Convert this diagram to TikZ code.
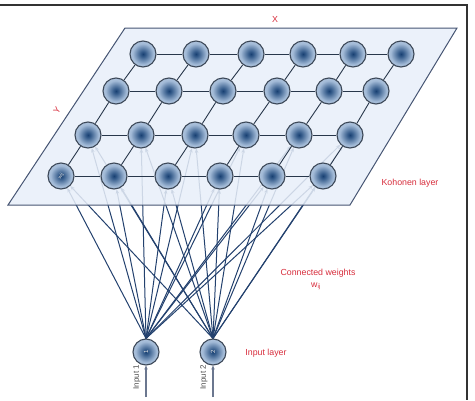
\documentclass[tikz,border=0pt]{standalone}
\usepackage{fontspec}
\setmainfont{Liberation Sans}
\usetikzlibrary{arrows.meta}
\pgfdeclarelayer{wires}
\pgfdeclarelayer{planelayer}
\pgfsetlayers{wires,planelayer,main}
\definecolor{ballc}{RGB}{25,65,115}
\definecolor{ballm}{RGB}{120,155,195}
\definecolor{balle}{RGB}{205,218,235}
\definecolor{ballrim}{RGB}{60,72,88}
\definecolor{gridc}{RGB}{40,55,75}
\definecolor{wirec}{RGB}{35,65,110}
\definecolor{planefill}{RGB}{232,239,249}
\definecolor{planeedge}{RGB}{70,85,115}
\definecolor{lblred}{RGB}{215,45,60}
\definecolor{framec}{RGB}{50,50,50}
\pgfdeclareradialshading{ball}{\pgfpoint{0bp}{0bp}}{color(0bp)=(ballc); color(5bp)=(ballc!70!ballm); color(20bp)=(ballm!50!balle); color(40bp)=(balle); color(50bp)=(balle)}
\begin{document}
\begin{tikzpicture}[x=1pt,y=-1pt,
  som/.style={circle, minimum size=26pt, inner sep=0pt, draw=ballrim, line width=1.1pt, shading=ball},
  gridline/.style={draw=gridc, line width=0.9pt},
  wire/.style={draw=wirec, line width=1pt, -{Stealth[length=4.5pt,width=3.5pt]}},
  inarrow/.style={draw=planeedge!80, line width=1.3pt, -{Stealth[length=4pt,width=3.5pt]}},
  lbl/.style={text=lblred, font=\fontsize{8.8}{9}\selectfont, inner sep=0pt},
  inlbl/.style={text=black!70, font=\fontsize{8}{8}\selectfont, inner sep=0pt, rotate=90}]
\useasboundingbox (0,0) rectangle (475,400);
% frame
\draw[framec, line width=1.5pt] (0,5) -- (467,5) -- (467,400);
% SOM nodes
\foreach \x [count=\i] in {143,196,251,303,353,401} \node[som] (n1-\i) at (\x,54) {};
\foreach \x [count=\i] in {116,169,223,277,329,376} \node[som] (n2-\i) at (\x,91) {};
\foreach \x [count=\i] in {88,141,195,246,299,350} \node[som] (n3-\i) at (\x,135) {};
\foreach \x [count=\i] in {61,114,168,220,272,323} \node[som] (n4-\i) at (\x,176) {};
\node[text=white!85!black, font=\fontsize{5}{5}\selectfont, rotate=60, inner sep=0pt] (wk) at (n4-1) {wij};
% grid
\foreach \r in {1,...,4} {
  \foreach \c in {1,...,5} {
    \pgfmathtruncatemacro{\d}{\c+1}
    \draw[gridline] (n\r-\c) -- (n\r-\d);
  }
}
\foreach \c in {1,...,6} {
  \draw[gridline] (n4-\c) -- (n3-\c);
  \draw[gridline] (n3-\c) -- (n2-\c);
  \draw[gridline] (n2-\c) -- (n1-\c);
}
% input nodes
\node[som] (in1) at (146,352) {};
\node[som] (in2) at (213,352) {};
\node[text=white!90!black, font=\fontsize{6}{6}\selectfont, rotate=90, inner sep=0pt] (k1) at (in1) {1};
\node[text=white!90!black, font=\fontsize{6}{6}\selectfont, rotate=90, inner sep=0pt] (k2) at (in2) {2};
\coordinate (s1) at (146,397);
\coordinate (s2) at (213,397);
\draw[inarrow] (s1) -- (in1);
\draw[inarrow] (s2) -- (in2);
\node[inlbl] (t1) at (137,377) {Input 1};
\node[inlbl] (t2) at (204,377) {Input 2};
% wires
\begin{pgfonlayer}{wires}
\foreach \t in {n4-1,n4-2,n4-3,n4-4,n4-5,n4-6,n3-1,n3-2,n3-3,n3-4,n3-5,n3-6} {
  \draw[wire] (in1.north) -- (\t);
  \draw[wire] (in2.north) -- (\t);
}
\end{pgfonlayer}
% plane
\begin{pgfonlayer}{planelayer}
\fill[planefill, opacity=0.86] (125,28) -- (457,28) -- (350,205) -- (8,205) -- cycle;
\draw[planeedge, line width=1pt] (125,28) -- (457,28) -- (350,205) -- (8,205) -- cycle;
\end{pgfonlayer}
% labels
\node[lbl] (lx) at (275,19) {X};
\node[lbl, rotate=56] (ly) at (57,110) {Y};
\node[lbl] (lk) at (410,183) {Kohonen layer};
\node[lbl] (lc) at (318,273) {Connected weights};
\node[lbl] (lw) at (316,286) {w$_{\mathrm{ij}}$};
\node[lbl] (li) at (266,353) {Input layer};
\end{tikzpicture}
\end{document}
